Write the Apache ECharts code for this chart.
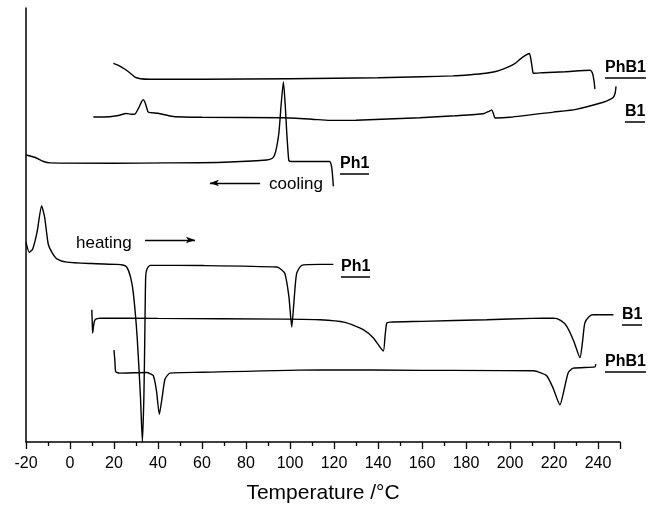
<!DOCTYPE html>
<html>
<head>
<meta charset="utf-8">
<script src="https://cdn.jsdelivr.net/npm/echarts@6/dist/echarts.min.js"></script>
<style>
    html, body { margin: 0; padding: 0; background: #fff; }
    #chart { width: 652px; height: 509px; }
</style>
</head>
<body>
<div id="chart"></div>
<script>
    // DSC curves, [temperature, signal] (signal in arbitrary units, shifted per curve)
    let phb1Cooling = [[19.7,383],[22,381],[25,377],[28,372],[29.5,369],[32,367.5],[36,367],[60,367],[100,367.5],[140,368.5],[160,369.5],[174,370.3],[182,371.5],[189,373],[194,375],[198.5,378.7],[202,382.5],[204.5,387],[207,391],[208.8,393],[209.5,387],[210.2,377],[210.6,373],[215,373.5],[225,374.5],[236.4,376],[237.5,373],[238.2,365],[238.6,357]];
    let b1Cooling = [[10.6,328.7],[18,329],[22,330.3],[25.5,332.3],[28,331.5],[29.5,331.7],[31,337],[32.5,344],[33.3,346.3],[34.2,343],[35,337],[35.6,333.7],[40,332.5],[47,329.3],[60,328.5],[97,328],[110,326.5],[118,325.3],[130,325.5],[159,328],[175,330],[187.9,332],[190.5,334.5],[191.7,336],[192.5,332],[193.2,327.7],[200,328.5],[219.7,333.7],[230,336.5],[242.4,343.7],[245.5,346.5],[247,348.7],[247.8,353],[248.2,359.7]];
    let ph1Cooling = [[-20,290.3],[-16,288],[-12,283.7],[-9,282.3],[20,282],[44,282.3],[70,283],[89.4,285.3],[92,287],[93,290.3],[94,299],[95,313.7],[96,342],[97,364.3],[97.8,342],[98.5,313.7],[99,297],[99.5,284.7],[100.5,283.7],[113.6,283.7],[118,283.7],[119,277],[119.7,258.7]];
    let ph1Heating = [[-20,202],[-18.5,192],[-17,195],[-15,212],[-12.9,238.7],[-11.5,227],[-9.9,200.3],[-8,191],[-6,185.3],[-1.5,182],[10,180.5],[21.2,179.7],[24,179],[25.8,177],[27.5,167],[28.8,150.3],[30.5,107],[32,47],[32.9,0.3],[33.6,47],[34,107],[34.4,167],[35,175],[36.4,178.7],[60,178.5],[94,177],[96,174.5],[97.7,170.3],[99.5,147],[100.8,116.3],[101.8,142],[103,170.3],[105.3,178.7],[113.6,179.7],[119.7,179.7]];
    let b1Heating = [[9.9,133.7],[10.1,122],[10.3,110.3],[10.8,119],[11.4,123.7],[13.6,125.3],[40,125],[97,124.3],[113.6,123.7],[125,121],[133.3,113.7],[138,105],[142.4,92],[143.2,107],[144,120.3],[145.5,121.3],[160,122],[189.4,123.7],[210,125],[219.7,125.3],[223,123],[225.8,117],[229,102],[231.8,85.3],[233,102],[234,120.3],[236,127],[237.9,128.7],[247,128.7]];
    let phb1Heating = [[20,93],[20.4,82],[20.8,71],[22.7,69.7],[34.9,70.3],[36.5,69],[37.9,67],[39.3,52],[40.6,28],[42,47],[43.2,63.7],[45.5,69.7],[60,70.5],[113.6,73],[160,72.5],[210.6,72],[214,70],[216.7,67],[219.5,55],[222.7,37.7],[224.5,52],[226.5,70.3],[228.8,74.7],[238.6,76],[239,78.7]];

    let xMin = -20, xMax = 250, xStep = 20;

    let font = "'Liberation Sans', Arial, sans-serif";
    let myChart = echarts.init(document.getElementById('chart'), null, {renderer: 'canvas'});

    function curve(name, data, extra) {
        let s = {
            name: name,
            type: 'line',
            data: data,
            showSymbol: false,
            smooth: 0.2,
            clip: true,
            lineStyle: {color: '#000', width: 1.4},
            silent: true,
            animation: false
        };
        return Object.assign(s, extra || {});
    }

    function arrowLine(from, to) {
        return {
            silent: true,
            symbol: ['none', 'arrow'],
            symbolSize: [5, 9],
            label: {show: false},
            lineStyle: {color: '#000', width: 1.4, type: 'solid'},
            data: [[{coord: from}, {coord: to}]]
        };
    }

    // underlined curve labels: [text, left, middle y, width]
    let tags = [
        ['PhB1', 605, 69, 41],
        ['B1', 625, 113, 20],
        ['Ph1', 340, 165, 29],
        ['Ph1', 341, 268, 29],
        ['B1', 622, 316, 20],
        ['PhB1', 605, 363, 41]
    ];
    let graphics = [];
    tags.forEach(function (t) {
        graphics.push({
            type: 'text', left: t[1], top: t[2] - 9, silent: true,
            style: {text: t[0], font: 'bold 16px ' + font, fill: '#000'}
        });
        graphics.push({
            type: 'line', silent: true,
            shape: {x1: t[1], y1: t[2] + 9, x2: t[1] + t[3], y2: t[2] + 9},
            style: {stroke: '#000', lineWidth: 1.5}
        });
    });
    graphics.push({type: 'text', left: 269, top: 176, silent: true,
        style: {text: 'cooling', font: '17px ' + font, fill: '#000'}});
    graphics.push({type: 'text', left: 76, top: 235, silent: true,
        style: {text: 'heating', font: '17px ' + font, fill: '#000'}});

    let option = {
        backgroundColor: '#fff',
        animation: false,
        grid: {left: 26, right: 32, top: 8, bottom: 62},
        xAxis: {
            type: 'value',
            min: xMin,
            max: xMax,
            interval: xStep,
            name: 'Temperature /°C',
            nameLocation: 'middle',
            nameGap: 41,
            nameTextStyle: {fontFamily: font, fontSize: 21, color: '#000'},
            axisLine: {show: true, onZero: false, lineStyle: {color: '#000', width: 1.5}},
            axisTick: {show: true, inside: false, length: 7, lineStyle: {color: '#000', width: 1.3}},
            minorTick: {show: true, splitNumber: 2, length: 4, lineStyle: {color: '#000', width: 1.3}},
            axisLabel: {margin: 14, fontFamily: font, fontSize: 16, color: '#000', showMaxLabel: false,
                showMinLabel: true},
            splitLine: {show: false},
            minorSplitLine: {show: false}
        },
        yAxis: {
            type: 'value',
            min: 0,
            max: 439,
            axisLine: {show: true, onZero: false, lineStyle: {color: '#000', width: 1.5}},
            axisTick: {show: false},
            axisLabel: {show: false},
            splitLine: {show: false}
        },
        series: [
            curve('PhB1 cooling', phb1Cooling),
            curve('B1 cooling', b1Cooling),
            curve('Ph1 cooling', ph1Cooling, {markLine: arrowLine([86.4, 262], [63.6, 262])}),
            curve('Ph1 heating', ph1Heating, {markLine: arrowLine([34.1, 204.3], [56.8, 204.3])}),
            curve('B1 heating', b1Heating),
            curve('PhB1 heating', phb1Heating)
        ],
        graphic: graphics
    };

    myChart.setOption(option);
</script>
</body>
</html>
